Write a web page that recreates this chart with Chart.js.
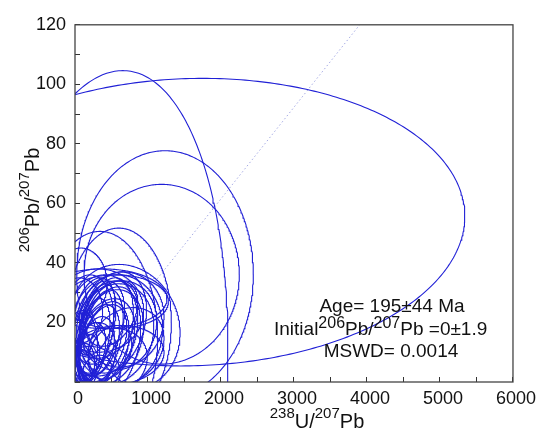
<!DOCTYPE html>
<html>
<head>
<meta charset="utf-8">
<script src="https://cdn.jsdelivr.net/npm/chart.js@4.4.1/dist/chart.umd.min.js"></script>
<style>
  html, body { margin: 0; padding: 0; background: #fff; }
</style>
</head>
<body>
<canvas id="isochron" width="544" height="431"></canvas>
<script>
// spot analyses: 238U/207Pb ratio and 2s error, 206Pb/207Pb ratio and 2s error, error correlation
const uPb = [1600, 317, 1233, 1187, 600, 342,
  680, 560, 520, 600, 470, 420, 380, 330, 300, 260, 220, 170, 120, 90,
  440, 500, 360, 320, 430, 560, 200, 700, 150, 260, 640, 380, 60, 560, 40, 300, 480, 80,
  420, 360, 470, 300, 520, 250, 400, 330];
const uPbErr = [3740, 1778, 1210, 1064, 720, 790,
  760, 640, 560, 520, 470, 400, 330, 280, 240, 300, 200, 170, 150, 220,
  420, 360, 500, 620, 560, 660, 420, 520, 380, 290, 580, 880, 320, 720, 260, 200, 300, 360,
  380, 300, 430, 260, 460, 230, 340, 350];
const pbPb = [53.7, -10.4, 36.2, 36.2, 20, 15,
  18.5, 17, 16, 19, 15, 14, 13, 14, 12, 9, 11, 8, 6, 12,
  21, 23, 19, 24, 6, 9, 3, 12, 19, 22, 21, 28, 24, 27, 4, 4, 10, 33,
  17, 15, 13, 18, 20, 14, 11, 20];
const pbPbErr = [48.3, 115, 41.5, 30.2, 31.7, 35.6,
  21, 19, 17, 15, 16, 14, 13, 12, 10, 11, 9, 8, 7, 12,
  13, 11, 17, 14, 12, 10, 9, 13, 17, 13, 16, 10, 11, 9, 7, 5, 9, 12,
  18, 16, 19, 15, 17, 14, 16, 14];
const rho = [0.04, 0.19, 0, 0, 0, 0,
  -0.1, 0.05, 0.15, 0.1, 0.25, 0.3, 0.4, 0.35, 0.3, 0.2, 0.3, 0.2, 0.1, 0,
  0.3, 0.35, 0.1, 0, 0.2, 0.1, 0, 0.2, 0.15, 0.3, 0.05, 0, 0, 0, 0, 0.2, 0.3, 0,
  0.35, 0.4, 0.3, 0.45, 0.25, 0.4, 0.35, 0.3];

// regression line through the analyses
const isochronX = [0, 3900];
const isochronY = [0, 120];

const FONT = '"Liberation Sans", Arial, sans-serif';

// outline of one error ellipse in data units
function ellipsePoints(i) {
  const pts = [];
  const r = rho[i], k = Math.sqrt(1 - r * r);
  for (let s = 0; s <= 400; s++) {
    const t = s / 400 * Math.PI * 2;
    pts.push({
      x: uPb[i] + uPbErr[i] * (r * Math.sin(t) + k * Math.cos(t)),
      y: pbPb[i] + pbPbErr[i] * Math.sin(t)
    });
  }
  return pts;
}

const datasets = uPb.map((_, i) => ({
  data: ellipsePoints(i),
  showLine: true,
  borderColor: 'rgb(32, 32, 214)',
  borderWidth: 1.1,
  pointRadius: 0,
  tension: 0,
  fill: false
}));

datasets.push({
  data: isochronX.map((x, i) => ({ x: x, y: isochronY[i] })),
  showLine: true,
  borderColor: 'rgb(165, 170, 228)',
  borderWidth: 1,
  borderDash: [1.5, 2.5],
  pointRadius: 0,
  fill: false
});

// text with superscript parts, parts = [[text, isSup], ...]
function drawRich(ctx, parts, x, y, size, supSize, raise, align) {
  let w = 0;
  parts.forEach(([t, sup]) => {
    ctx.font = (sup ? supSize : size) + 'px ' + FONT;
    w += ctx.measureText(t).width;
  });
  let cx = align === 'center' ? x - w / 2 : x;
  parts.forEach(([t, sup]) => {
    ctx.font = (sup ? supSize : size) + 'px ' + FONT;
    ctx.fillText(t, cx, sup ? y - raise : y);
    cx += ctx.measureText(t).width;
  });
}

const framePlugin = {
  id: 'frame',
  afterDraw(chart) {
    const { ctx, chartArea: a } = chart;
    ctx.save();
    ctx.strokeStyle = '#444';
    ctx.lineWidth = 1.3;
    ctx.strokeRect(a.left, a.top, a.right - a.left, a.bottom - a.top);

    ctx.fillStyle = '#111';
    ctx.textAlign = 'left';
    ctx.textBaseline = 'alphabetic';

    // x axis title
    drawRich(ctx, [['238', true], ['U/', false], ['207', true], ['Pb', false]],
      317, 428, 20, 15, 10, 'center');

    // y axis title
    ctx.save();
    ctx.translate(39, 200);
    ctx.rotate(-Math.PI / 2);
    drawRich(ctx, [['206', true], ['Pb/', false], ['207', true], ['Pb', false]],
      0, 0, 20, 15, 10, 'center');
    ctx.restore();

    // isochron result
    ctx.font = '19px ' + FONT;
    ctx.textAlign = 'center';
    ctx.fillText('Age= 195\u00b144 Ma', 392, 312);
    ctx.textAlign = 'left';
    drawRich(ctx, [['Initial', false], ['206', true], ['Pb/', false], ['207', true], ['Pb =0\u00b11.9', false]],
      274, 335, 19, 16, 7, 'left');
    ctx.font = '19px ' + FONT;
    ctx.textAlign = 'center';
    ctx.fillText('MSWD= 0.0014', 391, 357);
    ctx.restore();
  }
};

new Chart(document.getElementById('isochron'), {
  type: 'scatter',
  data: { datasets: datasets },
  options: {
    responsive: false,
    animation: false,
    events: [],
    layout: { padding: { left: 0, right: 31, top: 22, bottom: 0 } },
    plugins: { legend: { display: false }, tooltip: { enabled: false } },
    scales: {
      x: {
        type: 'linear',
        min: 0,
        max: 6000,
        afterFit: (s) => { s.height = 49; },
        border: { display: false },
        grid: { drawOnChartArea: false, drawTicks: true, tickLength: -5, color: '#333' },
        ticks: {
          stepSize: 500,
          autoSkip: false,
          maxRotation: 0,
          padding: 11,
          labelOffset: 3,
          color: '#111',
          font: { family: FONT, size: 18 },
          callback: (v) => (v % 1000 === 0 ? v : '')
        }
      },
      y: {
        type: 'linear',
        min: 0,
        max: 120,
        afterFit: (s) => { s.width = 75; },
        border: { display: false },
        grid: { drawOnChartArea: false, drawTicks: true, tickLength: -5, color: '#333' },
        ticks: {
          stepSize: 10,
          autoSkip: false,
          padding: 14,
          color: '#111',
          font: { family: FONT, size: 18 },
          callback: (v) => (v % 20 === 0 && v !== 0 ? v : '')
        }
      }
    }
  },
  plugins: [framePlugin]
});
</script>
</body>
</html>
